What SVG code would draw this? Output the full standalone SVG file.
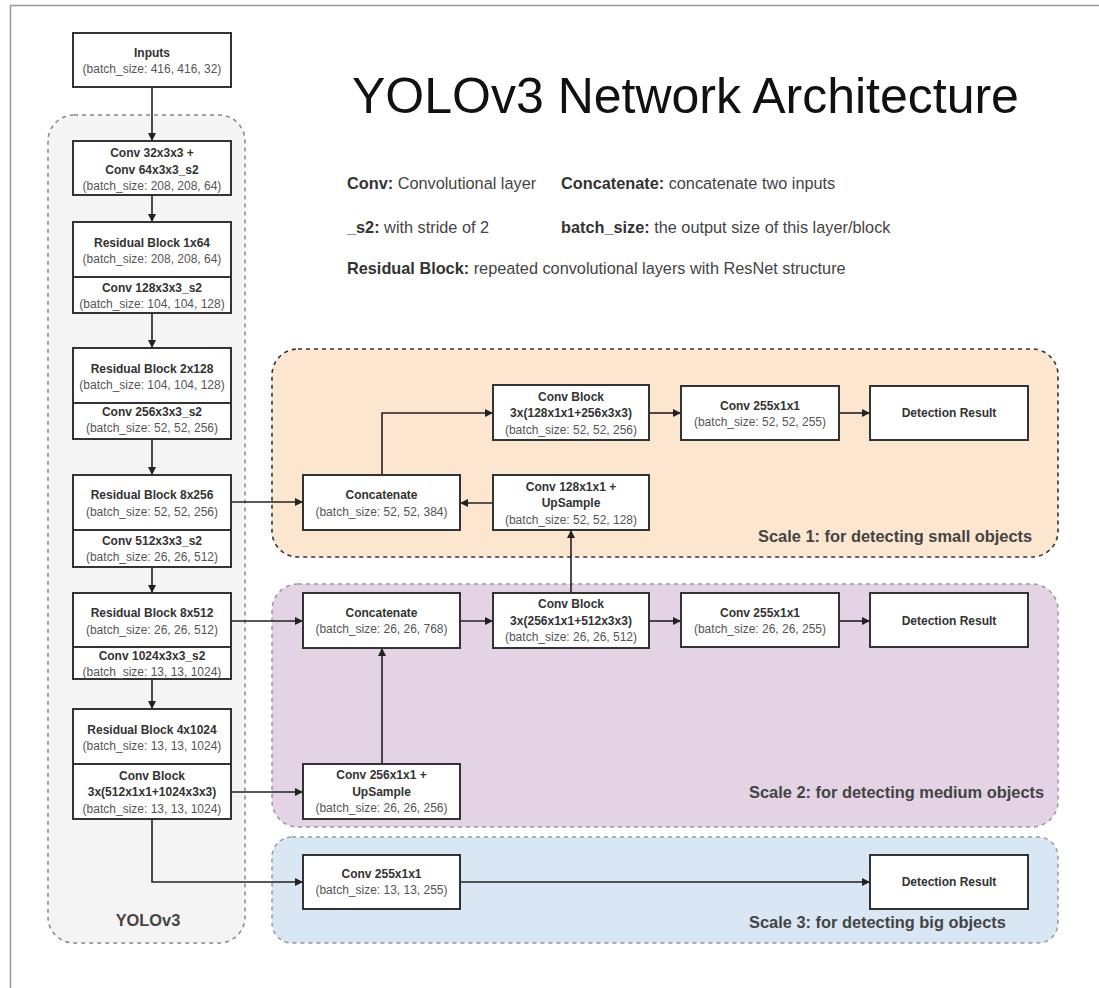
<svg xmlns="http://www.w3.org/2000/svg" width="1099" height="988" viewBox="0 0 1099 988">
<defs>
<marker id="ah" viewBox="0 0 10 10" refX="10" refY="5" markerWidth="8" markerHeight="8" markerUnits="userSpaceOnUse" orient="auto">
<path d="M0,0 L10,5 L0,10 z" fill="#222"/>
</marker>
<style>
.box{fill:#fff;stroke:#333;stroke-width:2}
.div{stroke:#333;stroke-width:2}
.b{font-family:"Liberation Sans",Arial,sans-serif;font-size:12px;font-weight:bold;fill:#333;text-anchor:middle;dominant-baseline:central}
.r{font-family:"Liberation Sans",Arial,sans-serif;font-size:12px;fill:#555;text-anchor:middle;dominant-baseline:central}
.leg{font-family:"Liberation Sans",Arial,sans-serif;font-size:16.3px;fill:#444;dominant-baseline:central}
.legb{font-weight:bold;fill:#333}
.scale{font-family:"Liberation Sans",Arial,sans-serif;font-size:16.4px;font-weight:bold;fill:#444;dominant-baseline:central}
.con{fill:none;stroke:#222;stroke-width:1.6;marker-end:url(#ah)}
</style>
</defs>
<rect x="0" y="0" width="1099" height="988" fill="#fff"/>
<rect x="10.5" y="5.5" width="1110" height="1010" fill="none" stroke="#999" stroke-width="1.5"/>

<g id="region-yolov3">
<rect x="48" y="115" width="197" height="828" rx="26" fill="#f4f4f4" stroke="#888" stroke-width="1.5" stroke-dasharray="4 4"/>
<text x="148" y="920" class="scale" text-anchor="middle">YOLOv3</text>
</g>
<g id="region-scale1">
<rect x="272" y="349" width="786" height="208" rx="26" fill="#fde6cf" stroke="#333" stroke-width="1.6" stroke-dasharray="4 4"/>
<text x="758" y="536" class="scale">Scale 1: for detecting small objects</text>
</g>
<g id="region-scale2">
<rect x="272" y="584" width="786" height="243" rx="26" fill="#e3d3e5" stroke="#999" stroke-width="1.5" stroke-dasharray="4 4"/>
<text x="749" y="792" class="scale">Scale 2: for detecting medium objects</text>
</g>
<g id="region-scale3">
<rect x="272" y="837" width="786" height="106" rx="20" fill="#d9e7f4" stroke="#999" stroke-width="1.5" stroke-dasharray="4 4"/>
<text x="749" y="922" class="scale">Scale 3: for detecting big objects</text>
</g>

<g id="title">
<text x="352" y="113" font-family="'Liberation Sans',Arial,sans-serif" font-size="50" fill="#111">YOLOv3 Network Architecture</text>
</g>
<g id="legend">
<text x="347" y="183" class="leg"><tspan class="legb">Conv:</tspan> Convolutional layer</text>
<text x="561" y="183" class="leg"><tspan class="legb">Concatenate:</tspan> concatenate two inputs</text>
<text x="347" y="227" class="leg"><tspan class="legb">_s2:</tspan> with stride of 2</text>
<text x="561" y="227" class="leg"><tspan class="legb">batch_size:</tspan> the output size of this layer/block</text>
<text x="347" y="268" class="leg"><tspan class="legb">Residual Block:</tspan> repeated convolutional layers with ResNet structure</text>
</g>

<g id="connectors">
<path class="con" d="M152,87 V141"/>
<path class="con" d="M152,195 V222"/>
<path class="con" d="M152,313 V348"/>
<path class="con" d="M152,439 V475"/>
<path class="con" d="M152,567 V593"/>
<path class="con" d="M152,679 V709"/>
<path class="con" d="M152,819 V882 H303"/>
<path class="con" d="M231,502 H303"/>
<path class="con" d="M493,503 H460"/>
<path class="con" d="M382,475 V413 H493"/>
<path class="con" d="M649,413 H681"/>
<path class="con" d="M839,413 H870"/>
<path class="con" d="M231,621 H303"/>
<path class="con" d="M460,621 H493"/>
<path class="con" d="M571,593 V530"/>
<path class="con" d="M649,621 H681"/>
<path class="con" d="M839,621 H870"/>
<path class="con" d="M382,764 V648"/>
<path class="con" d="M231,792 H303"/>
<path class="con" d="M460,882 H870"/>
</g>

<g id="inputs">
<rect class="box" x="73" y="33" width="158" height="54"/>
<text class="b" x="152" y="53">Inputs</text>
<text class="r" x="152" y="69">(batch_size: 416, 416, 32)</text>
</g>
<g id="conv32">
<rect class="box" x="73" y="141" width="158" height="54"/>
<text class="b" x="152" y="153">Conv 32x3x3 +</text>
<text class="b" x="152" y="170">Conv 64x3x3_s2</text>
<text class="r" x="152" y="186">(batch_size: 208, 208, 64)</text>
</g>
<g id="res1x64">
<rect class="box" x="73" y="222" width="158" height="91"/>
<line class="div" x1="73" y1="277" x2="231" y2="277"/>
<text class="b" x="152" y="243">Residual Block 1x64</text>
<text class="r" x="152" y="259">(batch_size: 208, 208, 64)</text>
<text class="b" x="152" y="288">Conv 128x3x3_s2</text>
<text class="r" x="152" y="304">(batch_size: 104, 104, 128)</text>
</g>
<g id="res2x128">
<rect class="box" x="73" y="348" width="158" height="91"/>
<line class="div" x1="73" y1="403" x2="231" y2="403"/>
<text class="b" x="152" y="369">Residual Block 2x128</text>
<text class="r" x="152" y="385">(batch_size: 104, 104, 128)</text>
<text class="b" x="152" y="412">Conv 256x3x3_s2</text>
<text class="r" x="152" y="428">(batch_size: 52, 52, 256)</text>
</g>
<g id="res8x256">
<rect class="box" x="73" y="475" width="158" height="92"/>
<line class="div" x1="73" y1="530" x2="231" y2="530"/>
<text class="b" x="152" y="495">Residual Block 8x256</text>
<text class="r" x="152" y="512">(batch_size: 52, 52, 256)</text>
<text class="b" x="152" y="541">Conv 512x3x3_s2</text>
<text class="r" x="152" y="557">(batch_size: 26, 26, 512)</text>
</g>
<g id="res8x512">
<rect class="box" x="73" y="593" width="158" height="86"/>
<line class="div" x1="73" y1="647" x2="231" y2="647"/>
<text class="b" x="152" y="613">Residual Block 8x512</text>
<text class="r" x="152" y="630">(batch_size: 26, 26, 512)</text>
<text class="b" x="152" y="656">Conv 1024x3x3_s2</text>
<text class="r" x="152" y="672">(batch_size: 13, 13, 1024)</text>
</g>
<g id="res4x1024">
<rect class="box" x="73" y="709" width="158" height="110"/>
<line class="div" x1="73" y1="764" x2="231" y2="764"/>
<text class="b" x="152" y="730">Residual Block 4x1024</text>
<text class="r" x="152" y="746">(batch_size: 13, 13, 1024)</text>
<text class="b" x="152" y="776">Conv Block</text>
<text class="b" x="152" y="792">3x(512x1x1+1024x3x3)</text>
<text class="r" x="152" y="809">(batch_size: 13, 13, 1024)</text>
</g>

<g id="convblock128">
<rect class="box" x="493" y="385" width="156" height="55"/>
<text class="b" x="571" y="397">Conv Block</text>
<text class="b" x="571" y="413">3x(128x1x1+256x3x3)</text>
<text class="r" x="571" y="430">(batch_size: 52, 52, 256)</text>
</g>
<g id="conv255-52">
<rect class="box" x="681" y="386" width="158" height="54"/>
<text class="b" x="760" y="406">Conv 255x1x1</text>
<text class="r" x="760" y="422">(batch_size: 52, 52, 255)</text>
</g>
<g id="det1">
<rect class="box" x="870" y="386" width="158" height="54"/>
<text class="b" x="949" y="413">Detection Result</text>
</g>
<g id="concat52">
<rect class="box" x="303" y="475" width="157" height="55"/>
<text class="b" x="381.5" y="495">Concatenate</text>
<text class="r" x="381.5" y="512">(batch_size: 52, 52, 384)</text>
</g>
<g id="conv128up">
<rect class="box" x="493" y="475" width="156" height="55"/>
<text class="b" x="571" y="487">Conv 128x1x1 +</text>
<text class="b" x="571" y="503">UpSample</text>
<text class="r" x="571" y="520">(batch_size: 52, 52, 128)</text>
</g>

<g id="concat26">
<rect class="box" x="303" y="593" width="157" height="55"/>
<text class="b" x="381.5" y="613">Concatenate</text>
<text class="r" x="381.5" y="629">(batch_size: 26, 26, 768)</text>
</g>
<g id="convblock256">
<rect class="box" x="493" y="593" width="156" height="55"/>
<text class="b" x="571" y="604">Conv Block</text>
<text class="b" x="571" y="621">3x(256x1x1+512x3x3)</text>
<text class="r" x="571" y="637">(batch_size: 26, 26, 512)</text>
</g>
<g id="conv255-26">
<rect class="box" x="681" y="593" width="158" height="54"/>
<text class="b" x="760" y="613">Conv 255x1x1</text>
<text class="r" x="760" y="629">(batch_size: 26, 26, 255)</text>
</g>
<g id="det2">
<rect class="box" x="870" y="593" width="158" height="54"/>
<text class="b" x="949" y="621">Detection Result</text>
</g>
<g id="conv256up">
<rect class="box" x="303" y="764" width="157" height="55"/>
<text class="b" x="381.5" y="775">Conv 256x1x1 +</text>
<text class="b" x="381.5" y="792">UpSample</text>
<text class="r" x="381.5" y="808">(batch_size: 26, 26, 256)</text>
</g>

<g id="conv255-13">
<rect class="box" x="303" y="855" width="157" height="54"/>
<text class="b" x="381.5" y="874">Conv 255x1x1</text>
<text class="r" x="381.5" y="890">(batch_size: 13, 13, 255)</text>
</g>
<g id="det3">
<rect class="box" x="870" y="855" width="158" height="54"/>
<text class="b" x="949" y="882">Detection Result</text>
</g>
</svg>
